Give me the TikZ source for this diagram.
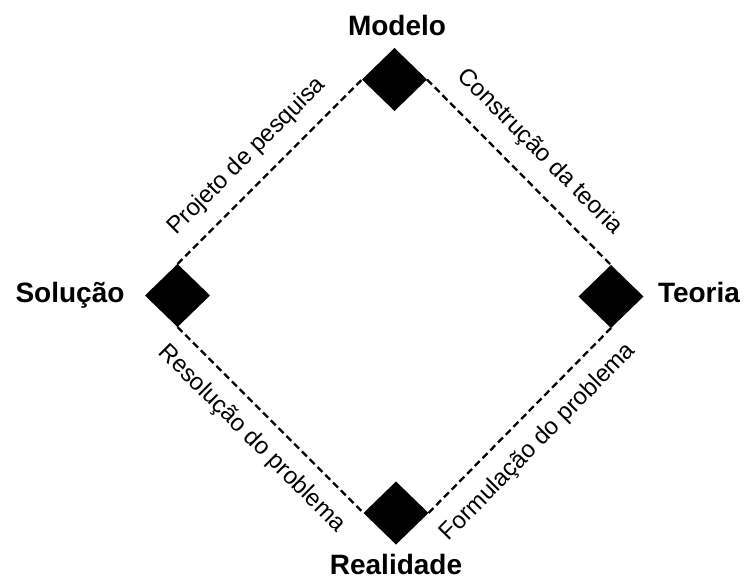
\documentclass[tikz,border=0pt]{standalone}
\usepackage{fontspec}
\setmainfont{Liberation Sans}
\usepackage{tikz}
\usetikzlibrary{shapes.geometric}

\begin{document}
\begin{tikzpicture}[x=1pt, y=-1pt,
    corner/.style={diamond, fill=black, draw=none, inner sep=0pt, outer sep=0pt,
      minimum width=65pt, minimum height=63pt},
    title/.style={anchor=base, inner sep=0pt,
      font=\fontsize{28}{30}\selectfont\bfseries},
    link/.style={draw=black, line width=2.3pt, dash pattern=on 7pt off 4pt},
    edgetext/.style={sloped, inner sep=0pt, text height=0pt, text depth=0pt,
      font=\fontsize{24}{26}\selectfont}]%
  \useasboundingbox (0,0) rectangle (745,578);

  \node[corner] (dM) at (394.5,79.5) {};
  \node[corner] (dS) at (177.5,295.5) {};
  \node[corner] (dT) at (611,296.5) {};
  \node[corner] (dR) at (396,513) {};

  \node[title] (tM) at (397,36) {Modelo};
  \node[title] (tS) at (70,302) {Solução};
  \node[title] (tT) at (699,302) {Teoria};
  \node[title] (tR) at (396,574) {Realidade};

      \draw [link] (dS.north) -- (dM.west)
        node[edgetext, pos=0.48, above=19pt] (eP) {Projeto de pesquisa};
      \draw [link] (dM.east) -- (dT.north)
        node[edgetext, pos=0.5, above=21pt] (eC) {Construção da teoria};
      \draw [link] (dS.south) -- (dR.west)
        node[edgetext, pos=0.5, below=31pt] (eR) {Resolução do problema};
      \draw [link] (dR.east) -- (dT.south)
        node[edgetext, pos=0.49, below=33pt] (eF) {Formulação do problema};
    \end{tikzpicture}
\end{document}
